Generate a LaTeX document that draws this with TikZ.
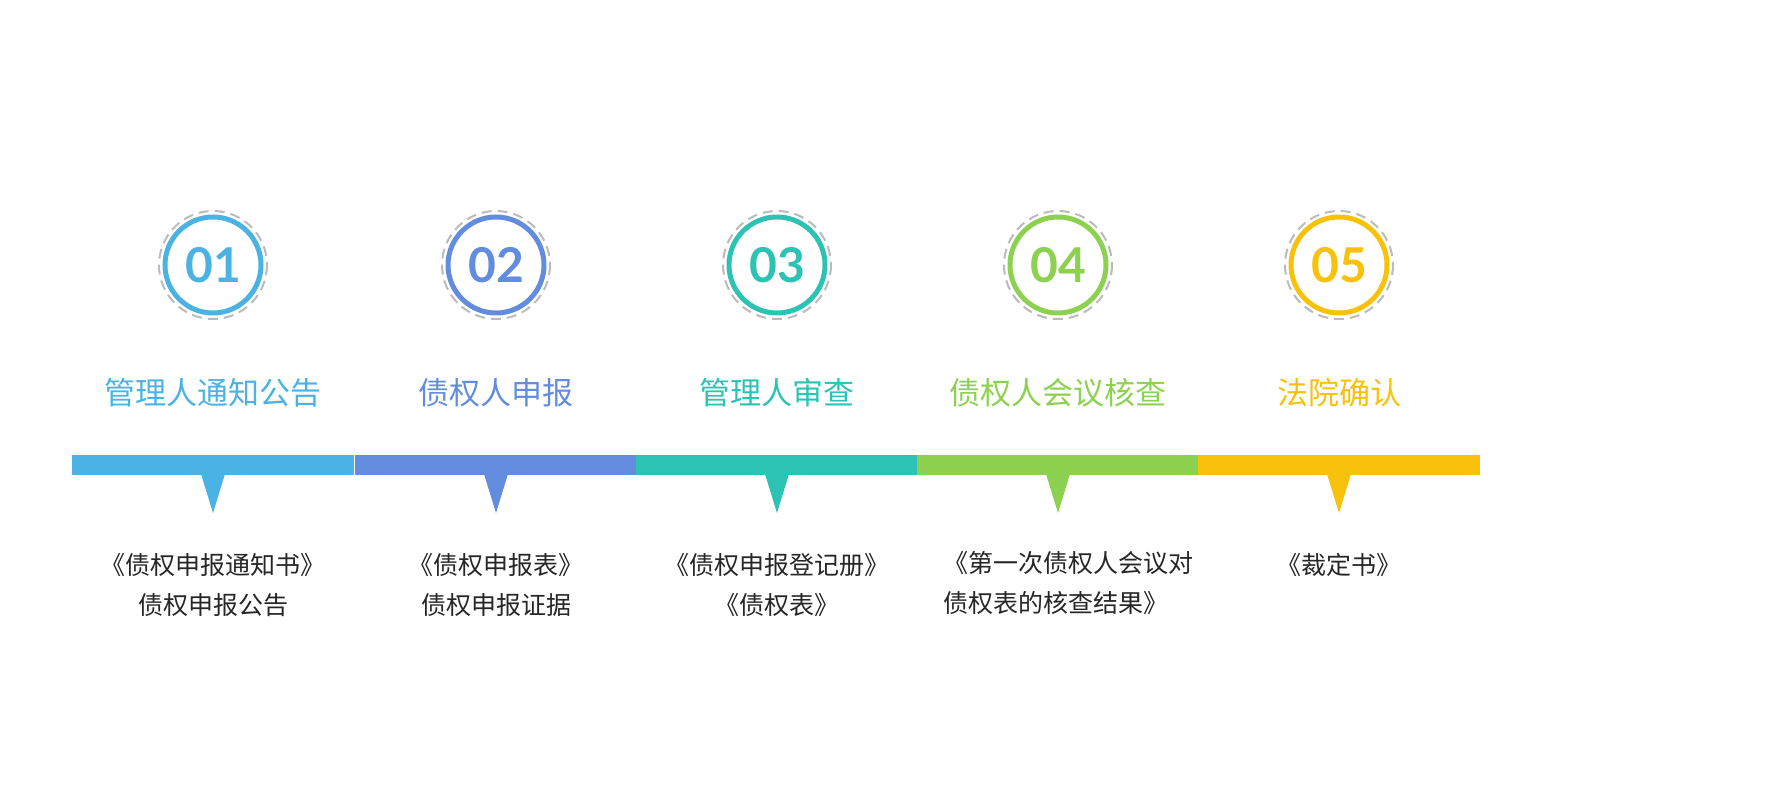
\documentclass[tikz,border=0pt]{standalone}
\usepackage{fontspec}
\setmainfont{Noto Sans CJK SC}
\newfontfamily\digitfont{Lato}
\definecolor{c1}{HTML}{4AB3E3}
\definecolor{c2}{HTML}{628DDF}
\definecolor{c3}{HTML}{2CC3B4}
\definecolor{c4}{HTML}{8DD150}
\definecolor{c5}{HTML}{F8C10B}
\definecolor{dg}{HTML}{BBBBBB}
\begin{document}
\begin{tikzpicture}[x=0.5pt,y=-0.5pt,
  ring/.style={circle,line width=2.5pt,minimum size=96*0.5pt,inner sep=0pt,font=\digitfont\bfseries\fontsize{24}{26}\selectfont},
  dring/.style={draw=dg,dashed,dash pattern=on 5pt off 3pt,line width=1pt},
  ttl/.style={font=\fontsize{15.5}{18}\selectfont},
  doc/.style={font=\fontsize{12.5}{20}\selectfont,align=center,text=black!85}]
\useasboundingbox (0,0) rectangle (1773,796);
\foreach \i/\x/\c/\t in {1/213/c1/管理人通知公告,2/496/c2/债权人申报,3/777/c3/管理人审查,4/1058/c4/债权人会议核查,5/1339/c5/法院确认}{
  \fill[\c] (\x-141,455) rectangle (\x+141,475);
  \fill[\c] (\x-12,474) -- (\x+12,474) -- (\x,513) -- cycle;
  \draw[dring] (\x,265) circle[radius=54];
  \node[ring,draw=\c,text=\c] (n\i) at (\x,265) {0\i};
  \node[ttl,text=\c] (t\i) at (\x,393) {\t};
}
\node[doc] (d1) at (213,585) {《债权申报通知书》\\债权申报公告};
\node[doc] (d2) at (496,585) {《债权申报表》\\债权申报证据};
\node[doc] (d3) at (777,585) {《债权申报登记册》\\《债权表》};
\node[doc,align=left] (d4) at (1068,583) {《第一次债权人会议对\\债权表的核查结果》};
\node[doc] (d5) at (1339,565) {《裁定书》};
\end{tikzpicture}
\end{document}
